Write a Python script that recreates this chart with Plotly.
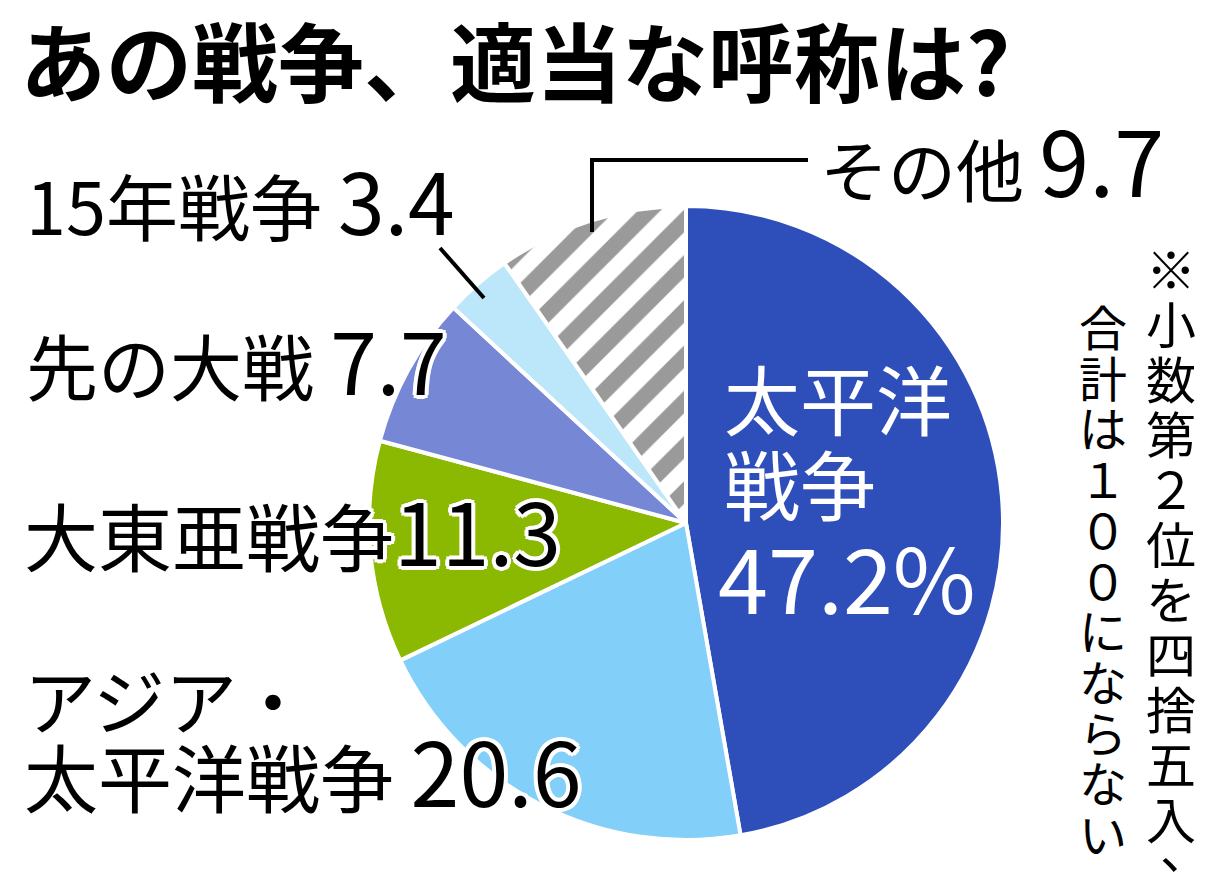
import plotly.graph_objects as go

# survey result: preferred name for "that war" (%)
labels = ["太平洋戦争", "アジア・太平洋戦争", "大東亜戦争", "先の大戦", "15年戦争", "その他"]
values = [47.2, 20.6, 11.3, 7.7, 3.4, 9.7]
colors = ["#2E4EBA", "#82D0FA", "#8BB800", "#7587D5", "#BCE6FA", "#DCDCDC"]
patterns = ["", "", "", "", "", "/"]

title_text = "あの戦争、適当な呼称は?"
note_right = "※小数第２位を四捨五入、"
note_left = "合計は１００にならない"

W, H = 1220, 879
FONT = "Noto Sans CJK JP"
HALO = ", ".join(
    f"{dx}px {dy}px 0 #fff"
    for dx, dy in [(4, 0), (-4, 0), (0, 4), (0, -4), (3, 3), (-3, -3), (3, -3), (-3, 3)]
)


def px(x):
    return x / W


def py(y):
    return 1 - y / H


fig = go.Figure()
fig.add_trace(go.Pie(
    labels=labels,
    values=values,
    sort=False,
    direction="clockwise",
    rotation=0,
    textinfo="none",
    hoverinfo="label+value",
    showlegend=False,
    marker=dict(
        colors=colors,
        line=dict(color="white", width=4),
        pattern=dict(shape=patterns, fgcolor="#9A9A9A", size=32, solidity=0.5),
    ),
    domain=dict(x=[px(369), px(1003)], y=[py(840), py(206)]),
))


def label(text, x, y, size=74, color="black", num=None, numsize=84, gap=" "):
    if num is not None:
        text = f"{text}{gap}<span style='font-size:{numsize}px'>{num}</span>"
    fig.add_annotation(
        text=text, x=px(x), y=py(y), xref="paper", yref="paper",
        xanchor="left", yanchor="middle", showarrow=False,
        font=dict(family=FONT, size=size, color=color, shadow=HALO if color == "black" else None),
    )


# outside labels
label("15年戦争", 24, 198, size=72, num=values[4], numsize=84)
label("先の大戦", 24, 358, size=72, num=values[3], numsize=84)
label("大東亜戦争", 22, 528, size=74, num=values[2], numsize=86, gap="")
label("アジア・", 22, 697, size=72)
label("太平洋戦争", 22, 768, size=74, num=values[1], numsize=88)
label("その他", 818, 158, size=68, num=values[5], numsize=90)

# inside label for the biggest slice
for txt, y in [("太平洋", 397), ("戦争", 482)]:
    label(txt, 722, y, size=76, color="white")
label(f"{values[0]}%", 716, 575, size=90, color="white")

# title
fig.add_annotation(
    text=f"<b>{title_text}</b>", x=px(18), y=py(58), xref="paper", yref="paper",
    xanchor="left", yanchor="middle", showarrow=False,
    font=dict(family=FONT, size=86, color="black"),
)

# vertical note, one glyph per line
for txt, x0, y0, step, size in [(note_right, 1171, 267, 55, 50), (note_left, 1103, 325, 50.7, 48)]:
    for i, ch in enumerate(txt):
        yy = y0 + i * step
        xx = x0
        if ch == "、":
            yy -= step * 0.45
            xx += 14
        fig.add_annotation(
            text=ch, x=px(xx), y=py(yy), xref="paper", yref="paper",
            xanchor="center", yanchor="middle", showarrow=False,
            font=dict(family=FONT, size=size, color="black"),
        )

# leader lines
line = dict(color="black", width=4)
fig.add_shape(type="path", xref="paper", yref="paper",
              path=f"M {px(592)} {py(232)} L {px(592)} {py(160)} L {px(808)} {py(160)}",
              line=line)
fig.add_shape(type="line", xref="paper", yref="paper",
              x0=px(440), y0=py(248), x1=px(484), y1=py(298), line=line)

fig.update_layout(
    width=W, height=H,
    margin=dict(l=0, r=0, t=0, b=0),
    paper_bgcolor="white",
    plot_bgcolor="white",
)

fig.write_html("out.html", config={"displayModeBar": False},
               post_script="document.body.style.margin='0';")
